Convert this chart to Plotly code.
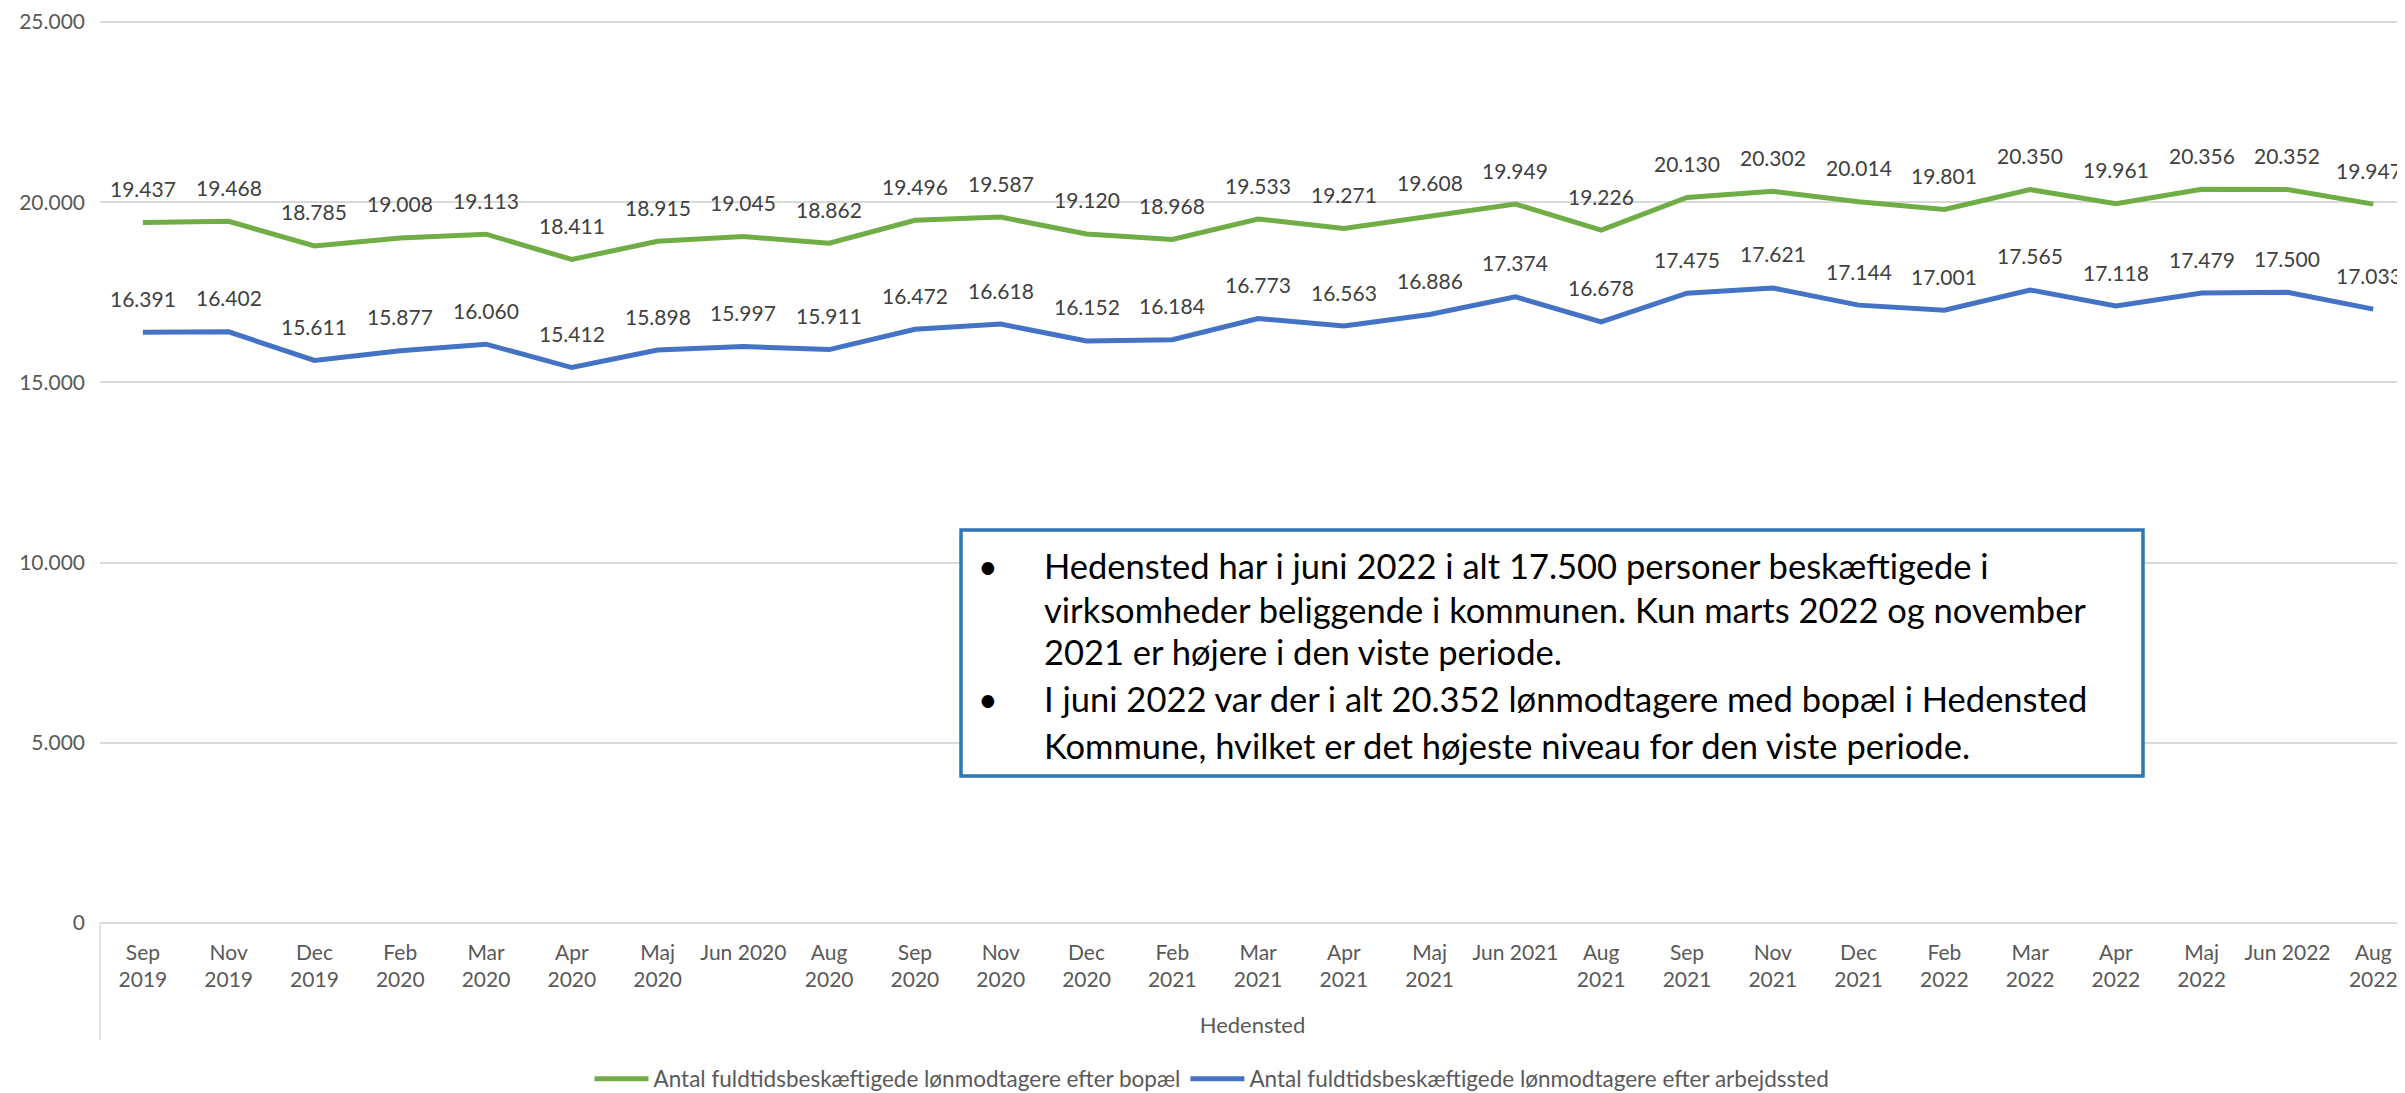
import plotly.graph_objects as go

categories = ["Sep<br>2019", "Nov<br>2019", "Dec<br>2019", "Feb<br>2020", "Mar<br>2020", "Apr<br>2020",
              "Maj<br>2020", "Jun 2020", "Aug<br>2020", "Sep<br>2020", "Nov<br>2020", "Dec<br>2020",
              "Feb<br>2021", "Mar<br>2021", "Apr<br>2021", "Maj<br>2021", "Jun 2021", "Aug<br>2021",
              "Sep<br>2021", "Nov<br>2021", "Dec<br>2021", "Feb<br>2022", "Mar<br>2022", "Apr<br>2022",
              "Maj<br>2022", "Jun 2022", "Aug<br>2022"]

bopael = [19437, 19468, 18785, 19008, 19113, 18411, 18915, 19045, 18862, 19496, 19587, 19120, 18968,
          19533, 19271, 19608, 19949, 19226, 20130, 20302, 20014, 19801, 20350, 19961, 20356, 20352, 19947]

arbejdssted = [16391, 16402, 15611, 15877, 16060, 15412, 15898, 15997, 15911, 16472, 16618, 16152, 16184,
               16773, 16563, 16886, 17374, 16678, 17475, 17621, 17144, 17001, 17565, 17118, 17479, 17500, 17033]

series_names = ["Antal fuldtidsbeskæftigede lønmodtagere efter bopæl",
                "Antal fuldtidsbeskæftigede lønmodtagere efter arbejdssted"]
series_colors = ["#70AD47", "#4472C4"]

y_ticks = [0, 5000, 10000, 15000, 20000, 25000]
x_title = "Hedensted"

box_lines = [
    ("•", "Hedensted har i juni 2022 i alt 17.500 personer beskæftigede i"),
    ("", "virksomheder beliggende i kommunen. Kun marts 2022 og november"),
    ("", "2021 er højere i den viste periode."),
    ("•", "I juni 2022 var der i alt 20.352 lønmodtagere med bopæl i Hedensted"),
    ("", "Kommune, hvilket er det højeste niveau for den viste periode."),
]

FONT = "Lato, 'Open Sans', sans-serif"

def fmt(v):
    return f"{v:,}".replace(",", ".")

# The page body has an 8px default margin; the figure is sized to fill the rest of the window.
OFF = 8
FIG_W, FIG_H = 2405 - OFF, 1093 - OFF
L, T, B = 100 - OFF, 12, 923 - OFF      # plot area in figure pixels
W, H = FIG_W - L, B - T

def px(X):
    return (X - OFF - L) / W
def py(Y):
    return (B - (Y - OFF)) / H

fig = go.Figure()
for name, vals, col in zip(series_names, [bopael, arbejdssted], series_colors):
    fig.add_trace(go.Scatter(x=categories, y=vals, mode="lines", name=name,
                             line=dict(color=col, width=5), hoverinfo="skip"))

annotations = []
n = len(categories)
for vals in [bopael, arbejdssted]:
    for i, (c, v) in enumerate(zip(categories, vals)):
        last = (i == n - 1)
        annotations.append(dict(x=c, y=v, xref="x", yref="y", text=fmt(v), showarrow=False,
                                yshift=34, xanchor="right" if last else "center",
                                xshift=31 if last else 0,
                                font=dict(family=FONT, size=21, color="#404040")))

line_y = [565, 609, 651, 698, 745]
for (bullet, txt), yy in zip(box_lines, line_y):
    if bullet:
        annotations.append(dict(x=px(988), y=py(yy), xref="paper", yref="paper", text=bullet,
                                showarrow=False, xanchor="center", yanchor="middle",
                                font=dict(family=FONT, size=34, color="#000000")))
    annotations.append(dict(x=px(1042), y=py(yy), xref="paper", yref="paper", text=txt,
                            showarrow=False, xanchor="left", yanchor="middle",
                            font=dict(family=FONT, size=34.5, color="#000000")))

shapes = [
    dict(type="rect", xref="paper", yref="paper", x0=px(961), x1=px(2143), y0=py(776), y1=py(530),
         line=dict(color="#2E75B6", width=3.5), fillcolor="#FFFFFF", layer="above"),
    dict(type="line", xref="paper", yref="paper", x0=0, x1=0, y0=0, y1=py(1040),
         line=dict(color="#D9D9D9", width=1.5)),
]

# value at the top edge so that 25.000 sits 2px below it
y_top = 25000 * (B - T) / (B - T - 2)

fig.update_layout(
    width=FIG_W, height=FIG_H,
    margin=dict(l=L, r=0, t=T, b=FIG_H - B),
    paper_bgcolor="white", plot_bgcolor="white",
    separators=",.",
    font=dict(family=FONT, color="#595959", size=21),
    showlegend=True,
    legend=dict(orientation="h", xref="container", yref="container",
                x=(1212 - OFF) / FIG_W, xanchor="center",
                y=1 - (1079 - OFF) / FIG_H, yanchor="middle",
                font=dict(family=FONT, size=22.5, color="#595959"), itemwidth=54,
                bgcolor="rgba(0,0,0,0)"),
    annotations=annotations,
    shapes=shapes,
    xaxis=dict(type="category", categoryorder="array", categoryarray=categories,
               range=[-0.5, 26.37], showgrid=False, showline=False, zeroline=False,
               automargin=False,
               tickfont=dict(family=FONT, size=21, color="#595959"), ticks="",
               ticklabelstandoff=15,
               title=dict(text=x_title, font=dict(family=FONT, size=22, color="#595959"), standoff=27)),
    yaxis=dict(range=[0, y_top], tickvals=y_ticks, tickformat=",d", showgrid=True,
               gridcolor="#D9D9D9", gridwidth=1.5, zeroline=True, zerolinecolor="#D9D9D9",
               zerolinewidth=1.5, showline=False, ticks="", ticklabelstandoff=14,
               automargin=False, ticklabeloverflow="allow",
               tickfont=dict(family=FONT, size=21, color="#595959")),
)

fig.write_html("out.html")
